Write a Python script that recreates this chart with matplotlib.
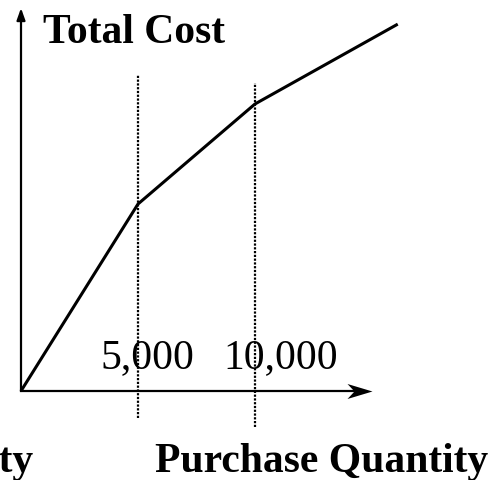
import matplotlib.pyplot as plt
from matplotlib.path import Path

plt.rcParams['font.family'] = ['Liberation Serif', 'DejaVu Serif']

# data: purchase quantity vs total cost (quantity discount breakpoints)
quantity = [0, 5000, 10000, 16100]
total_cost = [0, 50000, 76750, 98100]
breaks = [5000, 10000]
break_labels = ['5,000', '10,000']

W, H = 491, 480
fig = plt.figure(figsize=(W / 100, H / 100), dpi=100)
ax = fig.add_axes([0, 0, 1, 1])

# pixel mapping: origin at (21, 391), 117 px per 5000 units, 267.4 cost per px
qpp = 5000 / 117
cpp = 267.4
ax.set_xlim(-21 * qpp, (W - 21) * qpp)
ax.set_ylim((391 - H) * cpp, 391 * cpp)
ax.axis('off')

# x axis with a concave (stealth) arrow head
stealth = Path([(0, 0), (-1, 0.3), (-0.72, 0), (-1, -0.3), (0, 0)],
               [Path.MOVETO, Path.LINETO, Path.LINETO, Path.LINETO, Path.CLOSEPOLY])
ax.plot([0, 14600], [0, 0], color='black', lw=1.6)
ax.plot([15000], [0], marker=stealth, markersize=36, color='black', mew=0)

# y axis
ax.annotate('', xy=(0, 102400), xytext=(0, 0),
            arrowprops=dict(arrowstyle='-|>,head_length=0.7,head_width=0.25',
                            lw=1.6, color='black', shrinkA=0, shrinkB=0))

# dotted breakpoints
ax.plot([breaks[0], breaks[0]], [-7200, 84500], ls=(0, (1, 0.7)), color='black', lw=1.6)
ax.plot([breaks[1], breaks[1]], [-9600, 82400], ls=(0, (1, 0.7)), color='black', lw=1.6)

# total cost curve
ax.plot(quantity, total_cost, color='black', lw=2.2, solid_capstyle='butt')

def px(x, y):
    return x / W, 1 - y / H

fig.text(*px(43, 43), 'Total Cost', fontsize=30, fontweight='bold', va='baseline')
fig.text(*px(100, 368), break_labels[0], fontsize=30, va='baseline')
fig.text(*px(223, 368), break_labels[1], fontsize=30, va='baseline')
fig.text(*px(488, 472), 'Purchase Quantity', fontsize=30, fontweight='bold',
         va='baseline', ha='right')
fig.text(*px(33, 472), 'Purchase Quantity', fontsize=30, fontweight='bold',
         va='baseline', ha='right')

fig.savefig('out.png', dpi=100)
